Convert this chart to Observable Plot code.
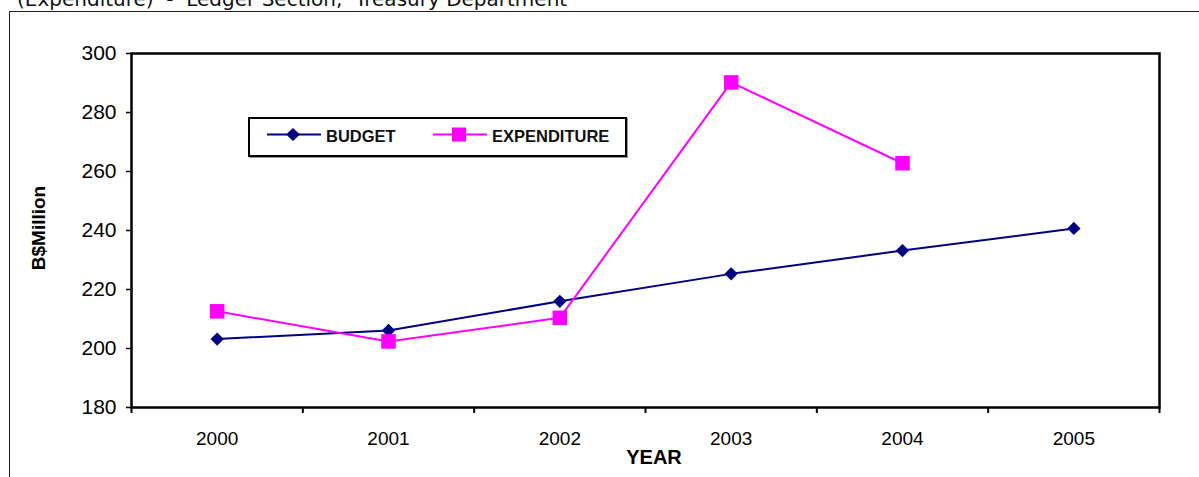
<!DOCTYPE html>
<html>
<head>
<meta charset="utf-8">
<script src="https://cdn.jsdelivr.net/npm/d3@7"></script>
<script src="https://cdn.jsdelivr.net/npm/@observablehq/plot@0.6"></script>
<style>
  html, body { margin: 0; padding: 0; background: #fff; }
  #wrap { position: relative; width: 1199px; height: 477px; overflow: hidden; background: #fff; }
  #outer { position: absolute; left: 9px; top: 11px; width: 1300px; height: 600px;
           border-left: 1.5px solid #222; border-top: 1.5px solid #222; }
  #title { position: absolute; left: 17px; top: -11px; font-family: "DejaVu Sans", sans-serif;
           font-size: 20px; line-height: 20px; white-space: pre; color: #111; }
  #chart { position: absolute; left: 0; top: 0; }
  #legend { position: absolute; left: 248px; top: 117px; width: 375px; height: 36px;
            border: 2px solid #000; background: #fff; box-shadow: 1px 1px 0 #999; }
  #legend .txt { position: absolute; top: 8px; font-family: "Liberation Sans", Arial, sans-serif;
                 font-weight: bold; font-size: 16.5px; line-height: 18px; color: #111; }
  #legend svg { position: absolute; left: 0; top: 0; }
  .ylab { position: absolute; left: 39px; top: 228px; transform: translate(-50%, -50%) rotate(-90deg);
          font-family: "Liberation Sans", Arial, sans-serif; font-weight: bold; font-size: 19px; white-space: nowrap; }
  .xlab { position: absolute; left: 654px; top: 457px; transform: translate(-50%, -50%);
          font-family: "Liberation Sans Narrow", "Liberation Sans", Arial, sans-serif; font-weight: bold; font-size: 20px; }
</style>
</head>
<body>
<div id="wrap">
  <div id="outer"></div>
  <div id="title">(Expenditure)  -  Ledger Section,  Treasury Department</div>
  <div id="chart"></div>
  <div class="ylab">B$Million</div>
  <div class="xlab">YEAR</div>
  <div id="legend">
    <svg width="375" height="36">
      <line x1="17" x2="71" y1="15.5" y2="15.5" stroke="#000080" stroke-width="2"/>
      <path d="M43,9 L50,15.5 L43,22 L36,15.5 Z" fill="#000080"/>
      <line x1="183" x2="237" y1="15.5" y2="15.5" stroke="#FF00FF" stroke-width="2"/>
      <rect x="202" y="8.5" width="14" height="14" fill="#FF00FF"/>
    </svg>
    <div class="txt" style="left:76px">BUDGET</div>
    <div class="txt" style="left:242px">EXPENDITURE</div>
  </div>
</div>
<script>
const years = [2000, 2001, 2002, 2003, 2004, 2005];
const budget = [203.2, 206.1, 216.0, 225.3, 233.2, 240.7];
const expYears = [2000, 2001, 2002, 2003, 2004];
const expenditure = [212.6, 202.4, 210.4, 290.2, 262.8];
const yTicks = [180, 200, 220, 240, 260, 280, 300];

const budgetData = years.map((year, i) => ({year, value: budget[i]}));
const expData = expYears.map((year, i) => ({year, value: expenditure[i]}));
const boundaries = years.map(y => y - 0.5).concat([years[years.length - 1] + 0.5]);

const chart = Plot.plot({
  width: 1199,
  height: 477,
  marginLeft: 131,
  marginRight: 40,
  marginTop: 53,
  marginBottom: 70,
  x: {type: "linear", domain: [boundaries[0], boundaries[boundaries.length - 1]]},
  y: {domain: [180, 300]},
  style: {fontFamily: "'Liberation Sans', Arial, sans-serif", fontSize: "19px", color: "#000", background: "transparent"},
  marks: [
    Plot.axisY({ticks: yTicks, tickSize: 5, tickPadding: 10, label: null, fontSize: 21, strokeWidth: 1.5}),
    Plot.axisX({ticks: boundaries, tickSize: 6, tickFormat: () => "", label: null, strokeWidth: 2}),
    Plot.axisX({ticks: years, tickSize: 0, tickPadding: 24, tickFormat: d => String(d), label: null,
                fontSize: 19, fontFamily: "'Liberation Sans Narrow', 'Liberation Sans', Arial, sans-serif"}),
    Plot.frame({stroke: "#000", strokeWidth: 2.5}),
    Plot.line(budgetData, {x: "year", y: "value", stroke: "#000080", strokeWidth: 2}),
    Plot.dot(budgetData, {x: "year", y: "value", symbol: "diamond2", r: 6, fill: "#000080", stroke: "none"}),
    Plot.line(expData, {x: "year", y: "value", stroke: "#FF00FF", strokeWidth: 2}),
    Plot.dot(expData, {x: "year", y: "value", symbol: "square", r: 8.2, fill: "#FF00FF", stroke: "none"})
  ]
});
document.getElementById("chart").appendChild(chart);
</script>
</body>
</html>
